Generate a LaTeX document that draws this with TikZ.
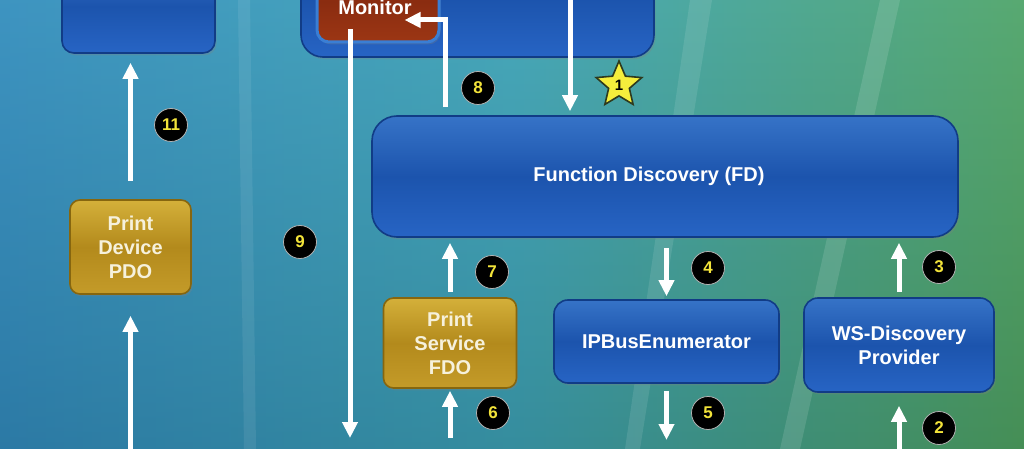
\documentclass[tikz,border=0pt]{standalone}
\usepackage{fontspec}
\setmainfont{Liberation Sans}
\usetikzlibrary{calc}
\usetikzlibrary{arrows.meta}
\usetikzlibrary{shapes.geometric}
\usetikzlibrary{shadows}

\definecolor{bgleft}{HTML}{3A8CC4}
\definecolor{bgmid}{HTML}{48A8BA}
\definecolor{bgright}{HTML}{5FAA52}
\definecolor{bgbottom}{HTML}{0B4F5E}
\definecolor{bluetop}{HTML}{3673C7}
\definecolor{bluemid}{HTML}{1C54AD}
\definecolor{bluebot}{HTML}{2764C4}
\definecolor{blueedge}{HTML}{113C86}
\definecolor{goldtop}{HTML}{D4B03A}
\definecolor{goldmid}{HTML}{B38A1C}
\definecolor{goldbot}{HTML}{C49B29}
\definecolor{goldedge}{HTML}{86660F}
\definecolor{goldtext}{HTML}{F6F1DC}
\definecolor{redtop}{HTML}{A23918}
\definecolor{redmid}{HTML}{8A2C10}
\definecolor{redbot}{HTML}{9C3614}
\definecolor{ringblue}{HTML}{3A7ED4}
\definecolor{badgetext}{HTML}{F2E33A}
\definecolor{staryellow}{HTML}{F5EE3C}
\definecolor{stardark}{HTML}{2E3A1E}

\tikzset{
  panel/.style={rounded corners=6pt, line width=0.8pt, text=white, align=center,
    font=\bfseries\fontsize{10}{12}\selectfont, inner sep=2pt,
    drop shadow={opacity=0.3, shadow xshift=0.8pt, shadow yshift=-1.2pt}},
  bluebox/.style={panel, draw=blueedge, top color=bluetop, bottom color=bluebot, middle color=bluemid},
  goldbox/.style={panel, draw=goldedge, top color=goldtop, bottom color=goldbot, middle color=goldmid, text=goldtext},
  redbox/.style={panel, draw=ringblue, line width=1.5pt, top color=redtop, bottom color=redbot, middle color=redmid},
  flow/.style={white, line width=2.5pt, -{Triangle[width=7.5pt,length=8pt]}},
  badge/.style={circle, fill=black, draw=gray!60, line width=0.4pt, minimum size=16.5pt, inner sep=0pt,
    text=badgetext, font=\bfseries\fontsize{8.5}{9}\selectfont}
}

\begin{document}
\begin{tikzpicture}[x=0.5pt, y=-0.5pt]
\useasboundingbox (0,0) rectangle (1024,449);
\clip (0,0) rectangle (1024,449);

% background
\shade[left color=bgleft, right color=bgright, middle color=bgmid] (0,0) rectangle (1024,449);
\shade[top color=bgmid, bottom color=bgbottom, opacity=0.3] (0,0) rectangle (1024,449);
\fill[white, opacity=0.08] (238,0) -- (250,0) -- (256,449) -- (244,449) -- cycle;
\fill[white, opacity=0.10] (690,0) -- (712,0) -- (640,449) -- (625,449) -- cycle;
\fill[white, opacity=0.12] (880,0) -- (900,0) -- (800,449) -- (780,449) -- cycle;

% boxes
\node[bluebox, minimum width=76.5pt, minimum height=46.5pt] (cls) at (138.5,6.5) {};
\node[bluebox, rounded corners=11pt, minimum width=176.5pt, minimum height=58.5pt] (port) at (477.5,-1.5) {};
\node[redbox, minimum width=61pt, minimum height=41pt] (mon) at (378,1) {};
\node[text=white, font=\bfseries\fontsize{10}{12}\selectfont, inner sep=0pt] (montext) at (375,7) {Monitor};

\node[bluebox, rounded corners=12.5pt, minimum width=293pt, minimum height=60.5pt] (fd) at (665,176.5) {Function Discovery (FD)\hspace*{16pt}};

\node[goldbox, rounded corners=5pt, minimum width=60.5pt, minimum height=47pt] (pdo) at (130.5,247) {Print\\Device\\PDO};
\node[goldbox, rounded corners=5pt, minimum width=66.5pt, minimum height=45pt] (fdo) at (450,343) {Print\\Service\\FDO};
\node[bluebox, rounded corners=7pt, minimum width=112.5pt, minimum height=41.5pt] (ipbus) at (666.5,341.5) {IPBusEnumerator};
\node[bluebox, rounded corners=7pt, minimum width=95pt, minimum height=47pt] (ws) at (899,345) {WS-Discovery\\Provider};

% free ends
\coordinate (in1) at (570,-10);
\coordinate (pdoin) at (130.5,470);
\coordinate (out9) at (350,438);
\coordinate (in6) at (450,438);
\coordinate (out5) at (666.5,440);
\coordinate (in2) at (899,470);

% arrows
\draw[flow, shorten >=2pt] (in1) -- (in1 |- fd.north);
\draw[flow, shorten >=6.5pt] (in2) -- (ws);
\draw[flow, shorten <=2.5pt, shorten >=2.5pt] (ws) -- (ws |- fd.south);
\draw[flow, shorten <=5pt, shorten >=1.5pt] (fd.south -| ipbus) -- (ipbus);
\draw[flow, shorten <=3.5pt] (ipbus) -- (out5);
\draw[flow, shorten >=1pt] (in6) -- (fdo);
\draw[flow, shorten <=2.5pt, shorten >=2.5pt] (fdo) -- (fdo |- fd.south);
\draw[flow] ($(fd.north -| mon.east)+(5,-8)$) |- ($(mon.east)+(-36,19)$);
\draw[flow] ($(mon.south)+(-28,-14)$) -- (out9);
\draw[flow, shorten >=10.5pt] (pdoin) -- (pdo);
\draw[flow, shorten <=9pt, shorten >=4.5pt] (pdo) -- (pdo |- cls.south);

% step numbers
\node[star, star points=5, star point ratio=2.2, fill=staryellow, draw=stardark, line width=0.8pt,
  minimum size=24pt, inner sep=0pt, font=\bfseries\fontsize{7.5}{8}\selectfont] (s1) at (619,85) {1};
\foreach \n/\x/\y in {11/171/125, 8/478/88, 9/300/242, 7/492/272, 6/493/413, 4/708/268, 5/708/413, 3/939/267, 2/939/428}
  \node[badge] (b\n) at (\x,\y) {\n};

\end{tikzpicture}
\end{document}
